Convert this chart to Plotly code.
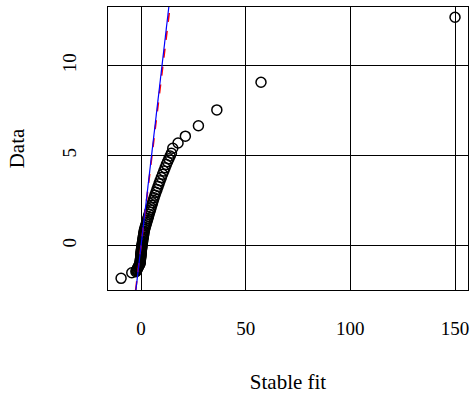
import plotly.graph_objects as go

# Q-Q points: stable-fit quantiles (x) vs data quantiles (y)
stable_q = [-9.55, -4.44,
            -2.46, -2.24, -2.02, -1.80, -1.59, -1.37, -1.15, -0.93, -0.72, -0.50,
            -0.46, -0.41, -0.37, -0.32, -0.28, -0.23, -0.19, -0.14, -0.10, -0.06,
            -0.01, 0.03, 0.08, 0.12, 0.17, 0.21, 0.26, 0.30, 0.35,
            0.42, 0.53, 0.64, 0.75, 0.85, 0.96, 1.07, 1.18, 1.28, 1.39, 1.50,
            1.68, 1.94, 2.19, 2.45, 2.71, 2.96, 3.22, 3.53, 3.83,
            4.14, 4.45, 4.77, 5.13, 5.49, 5.86, 6.22,
            6.63, 7.12, 7.60, 8.10, 8.59, 9.08,
            9.67, 10.27, 10.87, 11.47, 12.07,
            12.65, 13.28, 13.91, 14.50,
            15.14, 17.67, 21.16, 27.4, 36.2, 57.3, 150.0]
data_q = [-1.82, -1.51,
          -1.45, -1.40, -1.35, -1.30, -1.25, -1.20, -1.15, -1.10, -1.05, -1.00,
          -0.95, -0.90, -0.85, -0.80, -0.75, -0.70, -0.65, -0.60, -0.55, -0.50,
          -0.45, -0.40, -0.35, -0.30, -0.25, -0.20, -0.15, -0.10, -0.05,
          0.00, 0.08, 0.16, 0.24, 0.32, 0.40, 0.48, 0.56, 0.64, 0.72, 0.80,
          0.90, 1.00, 1.10, 1.20, 1.30, 1.40, 1.50, 1.62, 1.74,
          1.86, 1.98, 2.10, 2.24, 2.38, 2.52, 2.66,
          2.80, 2.96, 3.12, 3.28, 3.44, 3.60,
          3.78, 3.96, 4.14, 4.32, 4.50,
          4.66, 4.82, 4.98, 5.13,
          5.41, 5.70, 6.08, 6.66, 7.54, 9.08, 12.69]

# reference lines: (intercept, slope)
red_line = [0.0, 0.96]
blue_line = [0.0, 1.0]

x_ticks = [0, 50, 100, 150]
y_ticks = [0, 5, 10]
x_range = [-15.8, 156.2]
y_range = [-2.47, 13.26]

FONT = "Liberation Serif, Times New Roman, serif"

fig = go.Figure()


def line_xy(coef):
    a, b = coef
    ys = [y_range[0], y_range[1]]
    xs = [(y - a) / b for y in ys]
    return xs, ys


fig.add_trace(go.Scatter(
    x=stable_q, y=data_q, mode="markers",
    marker=dict(symbol="circle-open", size=10, color="black",
                line=dict(width=1.5, color="black")),
    showlegend=False, hoverinfo="skip"))

rx, ry = line_xy(red_line)
fig.add_trace(go.Scatter(x=rx, y=ry, mode="lines",
                         line=dict(color="red", width=1.6, dash="dash"),
                         showlegend=False))
bx, by = line_xy(blue_line)
fig.add_trace(go.Scatter(x=bx, y=by, mode="lines",
                         line=dict(color="blue", width=1.2),
                         showlegend=False))

axis_common = dict(
    showgrid=True, gridcolor="black", gridwidth=1,
    zeroline=False, showline=True, linecolor="black", linewidth=1,
    mirror=True, ticks="outside", tickcolor="rgba(0,0,0,0)",
    tickfont=dict(family=FONT, size=19, color="black"),
    automargin=False,
)

fig.update_layout(
    width=474, height=401,
    margin=dict(l=108, r=6, t=7, b=111, autoexpand=False),
    paper_bgcolor="white", plot_bgcolor="white",
    font=dict(family=FONT, color="black"),
    xaxis=dict(range=x_range, tickvals=x_ticks, ticklen=21,
               title=dict(text="Stable fit", standoff=36,
                          font=dict(family=FONT, size=21, color="black")),
               **axis_common),
    yaxis=dict(range=y_range, tickvals=y_ticks, ticklen=23, tickangle=-90,
               title=dict(text="Data", standoff=29,
                          font=dict(family=FONT, size=21, color="black")),
               **axis_common),
)

fig.write_html("out.html",
               config={"displayModeBar": False},
               post_script="document.body.style.margin='0';"
                           "document.body.style.overflow='hidden';")
